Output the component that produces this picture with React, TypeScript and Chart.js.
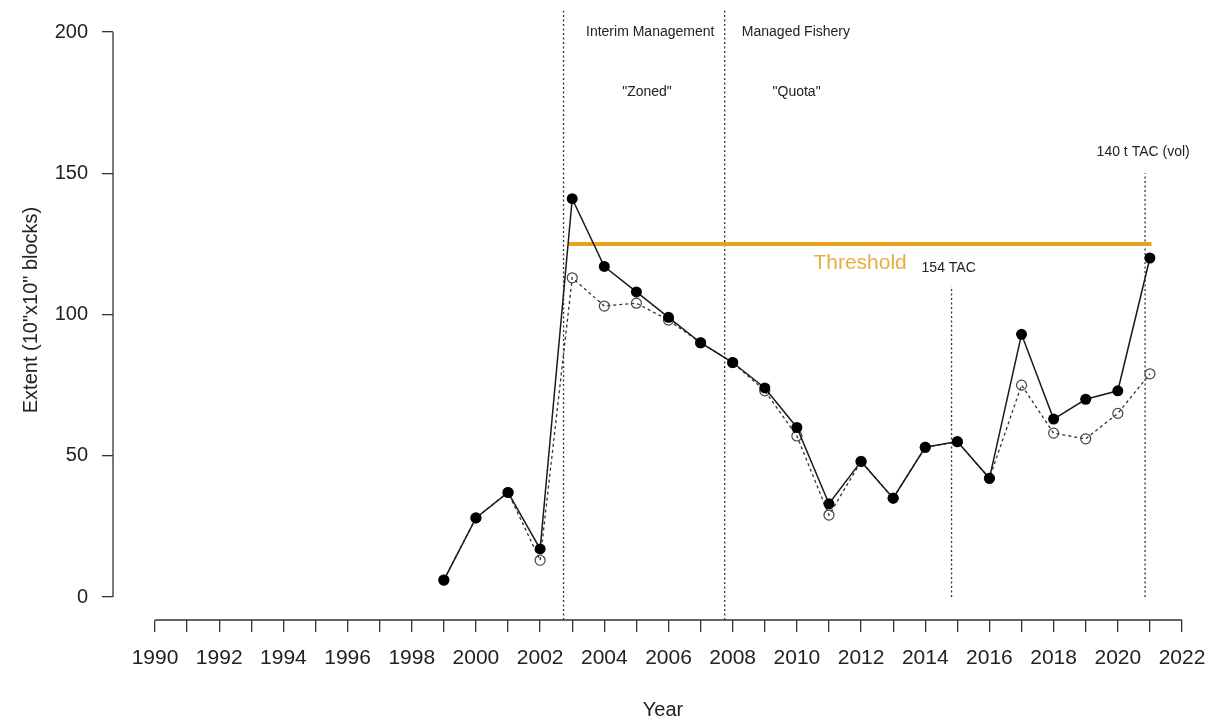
import React, { useEffect, useRef } from "react";
import { Chart, registerables } from "chart.js";

Chart.register(...registerables);

// ---- data ----
const years = [1999, 2000, 2001, 2002, 2003, 2004, 2005, 2006, 2007, 2008, 2009, 2010, 2011, 2012, 2013, 2014, 2015, 2016, 2017, 2018, 2019, 2020, 2021];
const extentFilled = [6, 28, 37, 17, 141, 117, 108, 99, 90, 83, 74, 60, 33, 48, 35, 53, 55, 42, 93, 63, 70, 73, 120];
const extentOpen = [6, 28, 37, 13, 113, 103, 104, 98, 90, 83, 73, 57, 29, 48, 35, 53, 55, 42, 75, 58, 56, 65, 79];

const xTickYears = [1990, 1991, 1992, 1993, 1994, 1995, 1996, 1997, 1998, 1999, 2000, 2001, 2002, 2003, 2004, 2005, 2006, 2007, 2008, 2009, 2010, 2011, 2012, 2013, 2014, 2015, 2016, 2017, 2018, 2019, 2020, 2021, 2022];
const yTickValues = [0, 50, 100, 150, 200];

const thresholdValue = 125;
const thresholdFrom = 2002.9;
const thresholdTo = 2021.05;
const thresholdText = "Threshold";
const thresholdTextX = 2011.97;
const thresholdTextY = 118.3;

const markerYears = [2002.73, 2007.75, 2014.82, 2020.85];
const markerTop = [207.5, 207.5, 110, 150];
const markerBottom = [-8.1, -8.1, 0, 0];

const noteTexts = ["Interim Management", "\"Zoned\"", "Managed Fishery", "\"Quota\"", "154 TAC", "140 t TAC (vol)"];
const noteX = [2005.43, 2005.33, 2009.97, 2009.99, 2014.73, 2020.79];
const noteY = [200, 178.8, 200, 178.8, 116.5, 157.4];

const xAxisFrom = 1990;
const xAxisTo = 2022;
const yAxisFrom = 0;
const yAxisTo = 200;

const FONT = "'Liberation Sans', Arial, sans-serif";
const ORANGE = "#E8A21C";

const zeroPadding = (s: any) => {
  s.paddingLeft = 0;
  s.paddingRight = 0;
  s.paddingTop = 0;
  s.paddingBottom = 0;
};

const overlayPlugin = {
  id: "overlay",
  afterDraw(chart: any) {
    const { ctx, chartArea } = chart;
    const xs = chart.scales.x;
    const ys = chart.scales.y;
    ctx.save();
    ctx.strokeStyle = "#333";
    ctx.lineWidth = 1.3;
    // x axis line (R style, from first to last tick)
    ctx.beginPath();
    ctx.moveTo(xs.getPixelForValue(xAxisFrom), chartArea.bottom);
    ctx.lineTo(xs.getPixelForValue(xAxisTo), chartArea.bottom);
    ctx.stroke();
    // y axis line
    ctx.beginPath();
    ctx.moveTo(chartArea.left, ys.getPixelForValue(yAxisFrom));
    ctx.lineTo(chartArea.left, ys.getPixelForValue(yAxisTo));
    ctx.stroke();

    // notes
    ctx.fillStyle = "#222";
    ctx.textAlign = "center";
    ctx.textBaseline = "middle";
    ctx.font = `14px ${FONT}`;
    noteTexts.forEach((t, i) => {
      ctx.fillText(t, xs.getPixelForValue(noteX[i]), ys.getPixelForValue(noteY[i]));
    });
    ctx.fillStyle = "#E7AE3C";
    ctx.font = `21px ${FONT}`;
    ctx.fillText(thresholdText, xs.getPixelForValue(thresholdTextX), ys.getPixelForValue(thresholdTextY));
    ctx.restore();
  },
};

export default function App() {
  const ref = useRef<HTMLCanvasElement | null>(null);

  useEffect(() => {
    if (!ref.current) return;
    document.body.style.margin = "0";

    const markerSets = markerYears.map((yr, i) => ({
      type: "line" as const,
      data: [
        { x: yr, y: markerBottom[i] },
        { x: yr, y: markerTop[i] },
      ],
      borderColor: "#333",
      borderWidth: 1.3,
      borderDash: [2, 2.5],
      pointRadius: 0,
      fill: false,
      order: 5,
    }));

    const chart = new Chart(ref.current, {
      type: "line",
      data: {
        datasets: [
          {
            data: years.map((y, i) => ({ x: y, y: extentFilled[i] })),
            borderColor: "#1a1a1a",
            borderWidth: 1.5,
            pointRadius: 5.5,
            pointBackgroundColor: "#000",
            pointBorderColor: "#000",
            pointBorderWidth: 0,
            fill: false,
            order: 1,
          },
          {
            data: years.map((y, i) => ({ x: y, y: extentOpen[i] })),
            borderColor: "#333",
            borderWidth: 1.3,
            borderDash: [3, 3],
            pointRadius: 5,
            pointBackgroundColor: "rgba(255,255,255,0)",
            pointBorderColor: "#444",
            pointBorderWidth: 1.2,
            fill: false,
            order: 2,
          },
          {
            data: [
              { x: thresholdFrom, y: thresholdValue },
              { x: thresholdTo, y: thresholdValue },
            ],
            borderColor: ORANGE,
            borderWidth: 4,
            pointRadius: 0,
            fill: false,
            order: 3,
          },
          ...markerSets,
        ],
      },
      options: {
        responsive: false,
        animation: false,
        layout: { padding: 0, autoPadding: false },
        plugins: { legend: { display: false }, tooltip: { enabled: false } },
        scales: {
          x: {
            type: "linear",
            min: 1988.691,
            max: 2022.966,
            afterBuildTicks: (s: any) => {
              s.ticks = xTickYears.map((v) => ({ value: v }));
            },
            afterFit: (s: any) => {
              s.height = 100;
              zeroPadding(s);
            },
            border: { display: false },
            grid: {
              drawOnChartArea: false,
              drawTicks: true,
              tickLength: 12,
              color: "#333",
              lineWidth: 1.3,
            },
            ticks: {
              autoSkip: false,
              maxRotation: 0,
              minRotation: 0,
              padding: 16,
              color: "#222",
              font: { family: FONT, size: 21, lineHeight: 1 },
              callback: (v: any) => (Number(v) % 2 === 0 ? String(v) : ""),
            },
            title: {
              display: true,
              text: "Year",
              color: "#222",
              font: { family: FONT, size: 20, lineHeight: 1 },
              padding: { top: 0, bottom: 0 },
            },
          },
          y: {
            type: "linear",
            min: -8.142,
            max: 211.33,
            afterBuildTicks: (s: any) => {
              s.ticks = yTickValues.map((v) => ({ value: v }));
            },
            afterFit: (s: any) => {
              s.width = 113;
              zeroPadding(s);
            },
            border: { display: false },
            grid: {
              drawOnChartArea: false,
              drawTicks: true,
              tickLength: 11,
              color: "#333",
              lineWidth: 1.3,
            },
            ticks: {
              padding: 14,
              color: "#222",
              font: { family: FONT, size: 20, lineHeight: 1 },
              callback: (v: any) => String(v),
            },
            title: {
              display: true,
              text: "Extent (10\"x10\" blocks)",
              color: "#222",
              font: { family: FONT, size: 20, lineHeight: 1 },
              padding: { top: 21, bottom: 0 },
            },
          },
        },
      },
      plugins: [overlayPlugin],
    });

    return () => chart.destroy();
  }, []);

  return (
    <div style={{ position: "absolute", left: 0, top: 0, width: 1213, height: 720, background: "#fff" }}>
      <canvas ref={ref} width={1213} height={720} style={{ display: "block" }} />
    </div>
  );
}
